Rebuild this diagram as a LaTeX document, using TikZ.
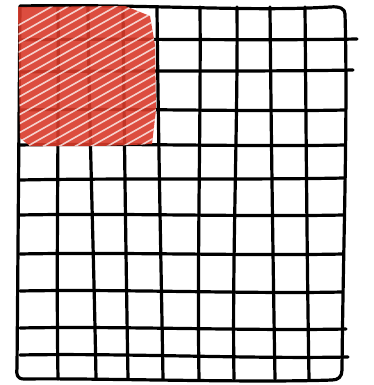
\documentclass[tikz,border=0pt]{standalone}
\usepackage{tikz}
\usetikzlibrary{calc}

\definecolor{marker}{HTML}{D83A2A}
\tikzset{
  gridline/.style={line width=3.2pt,line cap=round,line join=round,black},
  shade/.style={fill=marker,fill opacity=0.9,draw=none},
  hatchline/.style={white,line width=1.6pt,opacity=0.75}
}

\begin{document}
\begin{tikzpicture}[x=1pt,y=-1pt]
          \useasboundingbox (0,0) rectangle (374,385);

          % outer frame
          \draw[gridline] (20,6) .. controls (150,4) and (250,12) .. (330,7)
            .. controls (340,6) and (345,9) .. (345,14)
            .. controls (348,120) and (343,250) .. (342,370)
            .. controls (342,377) and (338,380) .. (332,380)
            .. controls (250,383) and (100,378) .. (24,379)
            .. controls (17,379) and (16,374) .. (17,368)
            .. controls (18,250) and (19,120) .. (20,6);

          % columns: top x / bottom x
          \foreach \xt/\xb in {58/58, 88/96, 123/128, 157/163, 200/199, 237/234, 270/275, 305/309}
            \draw[gridline] (\xt,7) .. controls (\xt+1,120) and (\xb-2,260) .. (\xb,379);

          % rows: left y / right y / right end
          \foreach \yl/\yr/\xe in {40/39/357, 72/70/353, 110/110/345, 145/145/345, 180/178/344, 215/215/343, 254/254/343, 291/292/342, 328/329/346, 355/357/348}
            \draw[gridline] (20,\yl) .. controls (120,\yl-2) and (250,\yr+2) .. (\xe,\yr);

          % scribbled square
          \begin{scope}
            \clip (18,7) -- (125,6) -- (150,16) -- (155,45) -- (156,110) -- (152,144)
              .. controls (100,147) and (50,146) .. (30,146) -- (20,138) -- cycle;
            \fill[shade] (0,0) rectangle (170,160);
            \foreach \k in {-60,-51,...,260}
              \draw[hatchline] (10,\k+90) -- (170,\k);
          \end{scope}
        \end{tikzpicture}
\end{document}
